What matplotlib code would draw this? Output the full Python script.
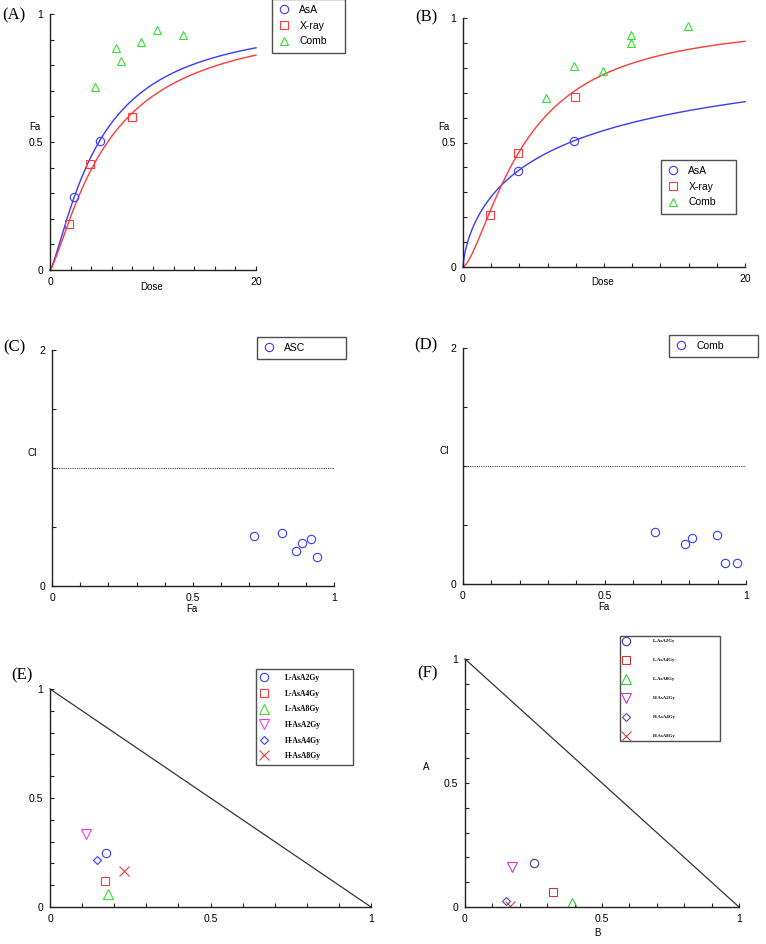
import matplotlib
matplotlib.use('Agg')
import matplotlib.pyplot as plt
import numpy as np

# panel A : dose-effect
a_asa_dose = [2.33, 4.82]
a_asa_fa = [0.284, 0.505]
a_xray_dose = [1.88, 3.88, 7.93]
a_xray_fa = [0.181, 0.413, 0.598]
a_comb_dose = [4.4, 6.37, 6.89, 8.87, 10.4, 12.9]
a_comb_fa = [0.716, 0.868, 0.816, 0.892, 0.937, 0.918]
a_asa_fit = (4.75, 1.31)    # Dm, m
a_xray_fit = (5.6, 1.3)

# panel B : dose-effect
b_asa_dose = [3.9, 7.88]
b_asa_fa = [0.385, 0.507]
b_xray_dose = [1.89, 3.9, 7.93]
b_xray_fa = [0.208, 0.459, 0.682]
b_comb_dose = [5.92, 7.88, 9.92, 11.93, 11.93, 15.95]
b_comb_fa = [0.678, 0.808, 0.789, 0.930, 0.899, 0.969]
b_asa_fit = (7.57, 0.70)
b_xray_fit = (4.4, 1.5)

# panel C / D : CI vs Fa
c_fa = [0.716, 0.817, 0.867, 0.885, 0.917, 0.941]
c_ci = [0.427, 0.453, 0.300, 0.362, 0.396, 0.249]
d_fa = [0.679, 0.786, 0.809, 0.898, 0.926, 0.969]
d_ci = [0.441, 0.336, 0.390, 0.418, 0.175, 0.175]

# panel E / F : isobolograms
iso_labels = ['L-AsA2Gy', 'L-AsA4Gy', 'L-AsA8Gy', 'H-AsA2Gy', 'H-AsA4Gy', 'H-AsA8Gy']
e_x = [0.174, 0.172, 0.180, 0.112, 0.147, 0.229]
e_y = [0.250, 0.118, 0.061, 0.333, 0.215, 0.164]
f_x = [0.253, 0.320, 0.389, 0.171, 0.148, 0.164]
f_y = [0.176, 0.062, 0.018, 0.162, 0.023, 0.003]

BLUE = '#3a3aff'
RED = '#ff3a3a'
GREEN = '#33e033'
iso_markers = ['o', 's', '^', 'v', 'D', 'x']
iso_sizes = [6, 6, 6.5, 6.5, 4.5, 7.5]
e_colors = [BLUE, RED, GREEN, '#ff33ff', BLUE, RED]
f_colors = ['#3a3a9a', '#c83838', '#33cc33', '#c040c0', '#4a4ab0', '#c04848']

SANS = 'Liberation Sans'
SERIF = 'Liberation Serif'

fig = plt.figure(figsize=(7.66, 9.44), dpi=100)
W, H = 766.0, 944.0


def axes_px(x0, x1, ytop, ybot):
    return fig.add_axes([x0 / W, 1 - ybot / H, (x1 - x0) / W, (ybot - ytop) / H])


def style(ax, xlim, ylim, xmaj, xmin, ymaj, ymin, xlabels=None, ylabels=None):
    ax.set_xlim(xlim)
    ax.set_ylim(ylim)
    for s in ['top', 'right']:
        ax.spines[s].set_visible(False)
    for s in ['left', 'bottom']:
        ax.spines[s].set_linewidth(1.0)
        ax.spines[s].set_color('#222222')
    ax.set_xticks(xmaj)
    ax.set_xticks(xmin, minor=True)
    ax.set_yticks(ymaj)
    ax.set_yticks(ymin, minor=True)
    ax.set_xticklabels(xlabels if xlabels else [str(v) for v in xmaj])
    ax.set_yticklabels(ylabels if ylabels else [str(v) for v in ymaj])
    ax.tick_params(which='both', direction='in', length=3, width=0.8, color='#222222')
    ax.tick_params(labelsize=7.5, pad=5)
    for lab in ax.get_xticklabels() + ax.get_yticklabels():
        lab.set_fontfamily(SANS)


def legend_px(ax, x0, x1, ytop, fontsize=7.5, family=SANS, weight='normal', spacing=0.55, tpad=1.0):
    lg = ax.legend(loc='upper left', bbox_to_anchor=(x0 / W, 1 - ytop / H, (x1 - x0) / W, 0.01),
                   bbox_transform=fig.transFigure, mode='expand', frameon=True, fancybox=False,
                   edgecolor='#222222', handlelength=1.0, handletextpad=tpad, labelspacing=spacing,
                   borderpad=0.6, prop={'family': family, 'size': fontsize, 'weight': weight})
    lg.get_frame().set_linewidth(1.0)
    return lg


def med_eff(d, fit):
    dm, m = fit
    d = np.asarray(d, dtype=float)
    out = np.zeros_like(d)
    pos = d > 0
    out[pos] = 1.0 / (1.0 + (dm / d[pos]) ** m)
    return out


dose_grid = np.linspace(0, 20, 300)
mk = dict(linestyle='none', markerfacecolor='none', markeredgewidth=0.8, markersize=6)

# ---- (A)
ax = axes_px(50, 256, 14, 270)
style(ax, (0, 20), (0, 1), [0, 20], np.arange(2, 20, 2), [0, 0.5, 1], np.arange(0.1, 1, 0.1),
      ['0', '20'], ['0', '0.5', '1'])
ax.plot(dose_grid, med_eff(dose_grid, a_asa_fit), color=BLUE, lw=1.0, clip_on=False)
ax.plot(dose_grid, med_eff(dose_grid, a_xray_fit), color=RED, lw=1.0, clip_on=False)
ax.plot(a_asa_dose, a_asa_fa, marker='o', color=BLUE, label='AsA', **mk)
ax.plot(a_xray_dose, a_xray_fa, marker='s', color=RED, label='X-ray', **mk)
ax.plot(a_comb_dose, a_comb_fa, marker='^', color=GREEN, label='Comb', **mk)
legend_px(ax, 267, 350, 3)
fig.text(35 / W, 1 - 127 / H, 'Fa', fontsize=7, family=SANS, ha='center', va='center')
fig.text(152 / W, 1 - 287 / H, 'Dose', fontsize=7, family=SANS, ha='center', va='center')
fig.text(14 / W, 1 - 15 / H, '(A)', fontsize=12, family=SERIF, ha='center', va='center')

# ---- (B)
ax = axes_px(463, 745, 18, 267)
style(ax, (0, 20), (0, 1), [0, 20], np.arange(2, 20, 2), [0, 0.5, 1], np.arange(0.1, 1, 0.1),
      ['0', '20'], ['0', '0.5', '1'])
ax.plot(dose_grid, med_eff(dose_grid, b_asa_fit), color=BLUE, lw=1.0, clip_on=False)
ax.plot(dose_grid, med_eff(dose_grid, b_xray_fit), color=RED, lw=1.0, clip_on=False)
ax.plot(b_asa_dose, b_asa_fa, marker='o', color=BLUE, label='AsA', **mk)
ax.plot(b_xray_dose, b_xray_fa, marker='s', color=RED, label='X-ray', **mk)
ax.plot(b_comb_dose, b_comb_fa, marker='^', color=GREEN, label='Comb', **mk)
legend_px(ax, 656, 741, 164)
fig.text(444 / W, 1 - 127 / H, 'Fa', fontsize=7, family=SANS, ha='center', va='center')
fig.text(603 / W, 1 - 282 / H, 'Dose', fontsize=7, family=SANS, ha='center', va='center')
fig.text(426 / W, 1 - 17 / H, '(B)', fontsize=12, family=SERIF, ha='center', va='center')

# ---- (C)
ax = axes_px(52, 334, 350, 586)
style(ax, (0, 1), (0, 2), [0, 0.5, 1], np.arange(0.1, 1, 0.1), [0, 2], [0.5, 1, 1.5],
      ['0', '0.5', '1'], ['0', '2'])
ax.axhline(1.0, color='#444444', lw=0.8, linestyle=(0, (1, 1)))
ax.plot(c_fa, c_ci, marker='o', color=BLUE, label='ASC', **mk)
legend_px(ax, 252, 351, 341)
fig.text(32 / W, 1 - 453 / H, 'CI', fontsize=7, family=SANS, ha='center', va='center')
fig.text(192 / W, 1 - 609 / H, 'Fa', fontsize=7, family=SANS, ha='center', va='center')
fig.text(14 / W, 1 - 347 / H, '(C)', fontsize=12, family=SERIF, ha='center', va='center')

# ---- (D)
ax = axes_px(463, 746, 348, 584)
style(ax, (0, 1), (0, 2), [0, 0.5, 1], np.arange(0.1, 1, 0.1), [0, 2], [0.5, 1, 1.5],
      ['0', '0.5', '1'], ['0', '2'])
ax.axhline(1.0, color='#444444', lw=0.8, linestyle=(0, (1, 1)))
ax.plot(d_fa, d_ci, marker='o', color=BLUE, label='Comb', **mk)
legend_px(ax, 664, 763, 339)
fig.text(444 / W, 1 - 451 / H, 'CI', fontsize=7, family=SANS, ha='center', va='center')
fig.text(604 / W, 1 - 607 / H, 'Fa', fontsize=7, family=SANS, ha='center', va='center')
fig.text(426 / W, 1 - 345 / H, '(D)', fontsize=12, family=SERIF, ha='center', va='center')

# ---- (E)
ax = axes_px(50, 371, 689, 907)
style(ax, (0, 1), (0, 1), [0, 0.5, 1], np.arange(0.1, 1, 0.1), [0, 0.5, 1], np.arange(0.1, 1, 0.1),
      ['0', '0.5', '1'], ['0', '0.5', '1'])
ax.plot([0, 1], [1, 0], color='#333333', lw=0.9, clip_on=False)
for i in range(len(iso_labels)):
    ax.plot(e_x[i], e_y[i], marker=iso_markers[i], color=e_colors[i], label=iso_labels[i],
            linestyle='none', markerfacecolor='none', markeredgewidth=0.8, markersize=iso_sizes[i])
legend_px(ax, 252, 357, 675, fontsize=5.5, family=SERIF, weight='bold', spacing=1.0, tpad=2.2)
fig.text(22 / W, 1 - 675 / H, '(E)', fontsize=12, family=SERIF, ha='center', va='center')

# ---- (F)
ax = axes_px(465, 739, 659, 907)
style(ax, (0, 1), (0, 1), [0, 0.5, 1], np.arange(0.1, 1, 0.1), [0, 0.5, 1], np.arange(0.1, 1, 0.1),
      ['0', '0.5', '1'], ['0', '0.5', '1'])
ax.plot([0, 1], [1, 0], color='#333333', lw=0.9, clip_on=False)
for i in range(len(iso_labels)):
    ax.plot(f_x[i], f_y[i], marker=iso_markers[i], color=f_colors[i], label=iso_labels[i],
            linestyle='none', markerfacecolor='none', markeredgewidth=0.8, markersize=iso_sizes[i])
legend_px(ax, 618, 722, 643, fontsize=3.5, family=SERIF, weight='bold', spacing=3.0, tpad=5.0)
fig.text(426 / W, 1 - 767 / H, 'A', fontsize=7, family=SANS, ha='center', va='center')
fig.text(597 / W, 1 - 933 / H, 'B', fontsize=7, family=SANS, ha='center', va='center')
fig.text(428 / W, 1 - 673 / H, '(F)', fontsize=12, family=SERIF, ha='center', va='center')

fig.savefig('out.png', dpi=100)
